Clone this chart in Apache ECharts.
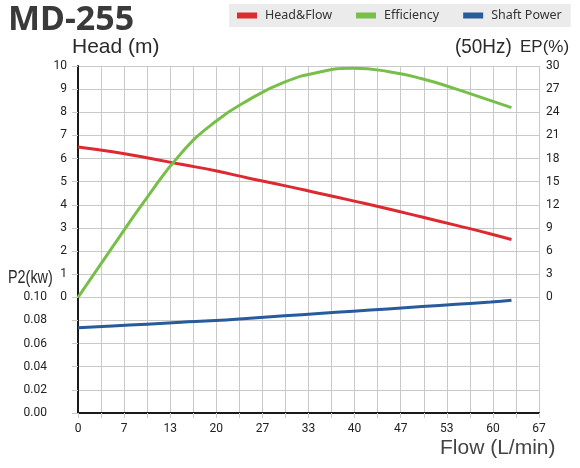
<!DOCTYPE html>
<html>
<head>
    <meta charset="utf-8">
    <title>MD-255</title>
    <script src="https://cdn.jsdelivr.net/npm/echarts@6/dist/echarts.min.js"></script>
    <style>
        html, body { margin: 0; padding: 0; background: #fff; }
        #main { width: 580px; height: 468px; }
    </style>
</head>
<body>
<div id="main"></div>
<script>
    // 流量点 (L/min)
    var flow = [0, 5, 10, 15, 20, 25, 30, 35, 40, 45, 50, 55, 60, 63];
    // 扬程 (m)
    var head = [6.5, 6.29, 6.03, 5.75, 5.47, 5.14, 4.83, 4.5, 4.17, 3.83, 3.47, 3.11, 2.74, 2.5];
    // 效率 (%)
    var efficiency = [0, 6.5, 12.9, 18.7, 22.8, 25.7, 27.9, 29.2, 29.7, 29.3, 28.35, 27.0, 25.5, 24.6];
    // 轴功率 (kw)
    var shaftPower = [0.0736, 0.0752, 0.0768, 0.0784, 0.080, 0.082, 0.084, 0.086, 0.088, 0.090, 0.092, 0.094, 0.096, 0.0975];

    // 刻度标签
    var xLabels = ['0', '7', '13', '20', '27', '33', '40', '47', '53', '60', '67'];
    var seriesNames = ['Head&Flow', 'Efficiency', 'Shaft Power'];

    function pairs(ys) {
        return flow.map(function (x, i) { return [x, ys[i]]; });
    }

    var gridColor = '#c9c9c9';
    var tickFont = 'Roboto';

    var myChart = echarts.init(document.getElementById('main'));
    myChart.setOption({
        animation: false,
        title: {
            text: 'MD-255',
            left: 3,
            top: -2,
            textStyle: { fontFamily: 'Noto Sans', fontSize: 34, fontWeight: 'bold', color: '#3a3a3a' }
        },
        legend: {
            data: seriesNames,
            left: 229,
            top: 4,
            padding: [5, 9, 5, 8],
            backgroundColor: '#ebebeb',
            icon: 'rect',
            itemWidth: 20,
            itemHeight: 6,
            itemGap: 24,
            textStyle: { fontFamily: 'Noto Sans', fontSize: 12.5, color: '#333', padding: [0, 0, 0, 3] }
        },
        grid: { left: 78, right: 41, top: 66, bottom: 55 },
        xAxis: {
            type: 'value',
            min: 0,
            max: 67,
            interval: 3.35,
            axisLine: { show: true, onZero: false, lineStyle: { color: '#1a1a1a', width: 2 } },
            axisTick: { show: true, length: 5, lineStyle: { color: gridColor } },
            splitLine: { show: true, lineStyle: { color: gridColor, width: 1 } },
            axisLabel: {
                margin: 10,
                fontFamily: tickFont,
                fontSize: 12,
                color: '#222',
                formatter: function (v) {
                    var k = Math.round(v / 3.35);
                    return k % 2 === 0 ? xLabels[k / 2] : '';
                }
            }
        },
        yAxis: [
            {
                type: 'value',
                min: -5,
                max: 10,
                interval: 1,
                position: 'left',
                axisLine: { show: true, onZero: false, lineStyle: { color: '#1a1a1a', width: 2 } },
                axisTick: { show: true, length: 6, lineStyle: { color: gridColor } },
                splitLine: { show: true, lineStyle: { color: gridColor, width: 1 } },
                axisLabel: {
                    margin: 11,
                    fontFamily: tickFont,
                    fontSize: 12,
                    color: '#222',
                    formatter: function (v) { return v >= 0 ? String(v) : ''; }
                }
            },
            {
                type: 'value',
                min: 0,
                max: 0.30,
                interval: 0.02,
                position: 'left',
                axisLine: { show: false },
                axisTick: { show: false },
                splitLine: { show: false },
                axisLabel: {
                    margin: 31,
                    fontFamily: tickFont,
                    fontSize: 12,
                    color: '#222',
                    formatter: function (v) { return v <= 0.1001 ? v.toFixed(2) : ''; }
                }
            },
            {
                type: 'value',
                min: -15,
                max: 30,
                interval: 3,
                position: 'right',
                axisLine: { show: false },
                axisTick: { show: false },
                splitLine: { show: false },
                axisLabel: {
                    margin: 7,
                    fontFamily: tickFont,
                    fontSize: 12,
                    color: '#222',
                    formatter: function (v) { return v >= 0 ? String(v) : ''; }
                }
            }
        ],
        graphic: [
            { type: 'text', x: 72, y: 37, style: { text: 'Head (m)', font: '21px "Liberation Sans"', fill: '#2a2a2a' } },
            { type: 'text', x: 455, y: 37, scaleX: 0.9, style: { text: '(50Hz)', font: '21px "Liberation Sans"', fill: '#2a2a2a' } },
            { type: 'text', x: 520, y: 39, style: { text: 'EP(%)', font: '17px "Liberation Sans"', fill: '#2a2a2a' } },
            { type: 'text', x: 8, y: 269, scaleX: 0.8, style: { text: 'P2(kw)', font: '18px "Liberation Sans"', fill: '#2a2a2a' } },
            { type: 'text', x: 440, y: 438, style: { text: 'Flow (L/min)', font: '21px "Liberation Sans"', fill: '#444' } }
        ],
        series: [
            {
                name: seriesNames[0],
                type: 'line',
                yAxisIndex: 0,
                smooth: true,
                showSymbol: false,
                color: '#dc2a30',
                lineStyle: { width: 3 },
                data: pairs(head)
            },
            {
                name: seriesNames[1],
                type: 'line',
                yAxisIndex: 2,
                smooth: true,
                showSymbol: false,
                color: '#78bf4a',
                lineStyle: { width: 3 },
                data: pairs(efficiency)
            },
            {
                name: seriesNames[2],
                type: 'line',
                yAxisIndex: 1,
                smooth: true,
                showSymbol: false,
                color: '#285b9c',
                lineStyle: { width: 3 },
                data: pairs(shaftPower)
            }
        ]
    });
</script>
</body>
</html>
